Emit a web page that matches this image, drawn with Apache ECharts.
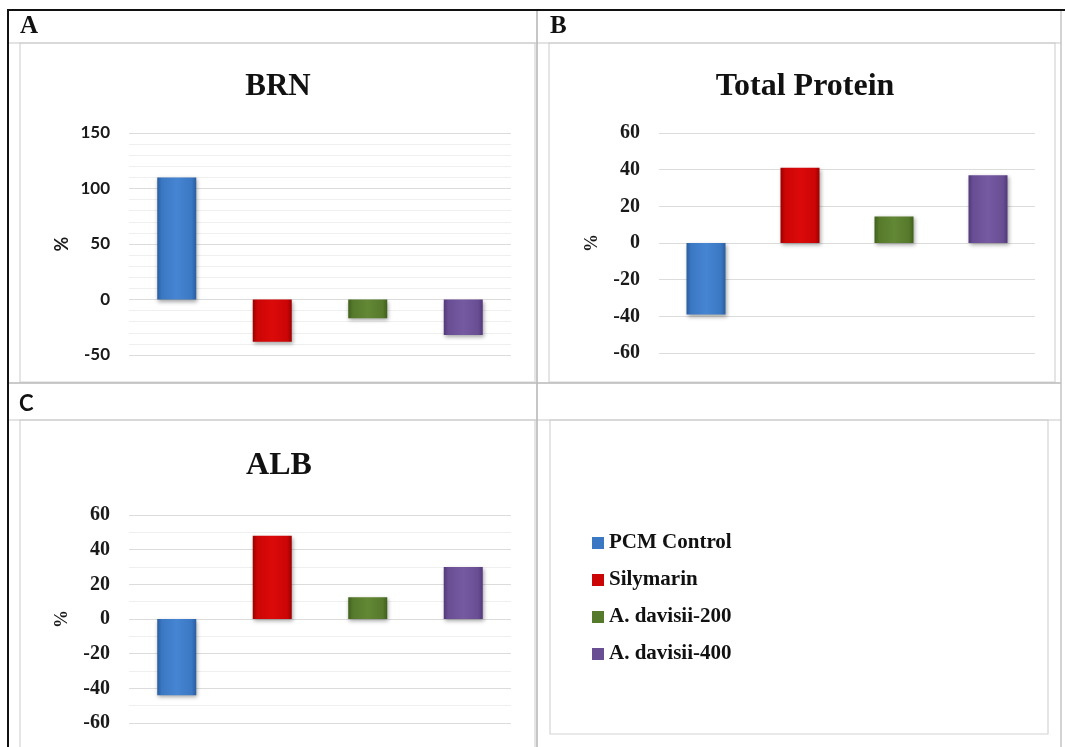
<!DOCTYPE html>
<html>
<head>
<meta charset="utf-8">
<script src="https://cdn.jsdelivr.net/npm/echarts@6/dist/echarts.min.js"></script>
<style>
html,body{margin:0;padding:0;background:#fff;}
#main{width:1065px;height:747px;}
</style>
</head>
<body>
<div id="main"></div>
<script>
// ---- data ----
var groups = ['PCM Control', 'Silymarin', 'A. davisii-200', 'A. davisii-400'];
var brnValues = [110, -38, -17, -32];
var proteinValues = [-39, 41, 14.5, 37];
var albValues = [-44, 48, 12.5, 30];
var panelTitles = ['BRN', 'Total Protein', 'ALB'];
var panelLetters = ['A', 'B', 'C'];
var yLimitsA = [-50, 150, 50];
var yLimitsB = [-60, 60, 20];
var yLimitsC = [-60, 60, 20];

// ---- styles ----
var SERIF = '"Liberation Serif", "DejaVu Serif", serif';
var SANS = 'Lato, "Liberation Sans", sans-serif';
function grad(dark, mid, light) {
  return {type: 'linear', x: 0, y: 0, x2: 1, y2: 0,
    colorStops: [
      {offset: 0, color: dark}, {offset: 0.12, color: mid},
      {offset: 0.5, color: light}, {offset: 0.88, color: mid},
      {offset: 1, color: dark}]};
}
var colors = [
  grad('#2a5d9f', '#3b78c4', '#4685d2'),
  grad('#9e0000', '#cc0505', '#dc0a0a'),
  grad('#40601c', '#567a2b', '#628735'),
  grad('#52397a', '#694e94', '#755aa2')
];
var legendColors = ['#3b78c4', '#cc0505', '#567a2b', '#694e94'];

var chart = echarts.init(document.getElementById('main'), null, {renderer: 'canvas'});

var grids = [
  {left: 129, top: 133, width: 382, height: 222},
  {left: 659, top: 133, width: 376, height: 220},
  {left: 129, top: 515, width: 382, height: 208}
];
var panelData = [brnValues, proteinValues, albValues];
var limits = [yLimitsA, yLimitsB, yLimitsC];
var labelFonts = [
  {fontFamily: SANS, fontSize: 17, fontWeight: 'bold', color: '#1a1a1a'},
  {fontFamily: SERIF, fontSize: 20, fontWeight: 'bold', color: '#1a1a1a'},
  {fontFamily: SERIF, fontSize: 20, fontWeight: 'bold', color: '#1a1a1a'}
];
var minorSplits = [5, 0, 2];

var xAxes = [], yAxes = [], series = [];
for (var p = 0; p < 3; p++) {
  xAxes.push({
    type: 'category', gridIndex: p, data: groups,
    axisLine: {show: false}, axisTick: {show: false}, axisLabel: {show: false}
  });
  yAxes.push({
    type: 'value', gridIndex: p,
    min: limits[p][0], max: limits[p][1], interval: limits[p][2],
    name: '%', nameLocation: 'middle', nameGap: 58, nameRotate: 90,
    nameTextStyle: {fontFamily: p === 0 ? SANS : SERIF, fontSize: 18, fontWeight: 'bold', color: '#1a1a1a'},
    axisLine: {show: false}, axisTick: {show: false},
    axisLabel: Object.assign({margin: 19}, labelFonts[p]),
    splitLine: {show: true, lineStyle: {color: '#dcdcdc', width: 1}},
    minorTick: {show: false, splitNumber: minorSplits[p] || 5},
    minorSplitLine: {show: minorSplits[p] > 0, lineStyle: {color: '#efefef', width: 1}}
  });
  for (var g = 0; g < groups.length; g++) {
    (function (p, g) {
      series.push({
        name: groups[g], type: 'bar', xAxisIndex: p, yAxisIndex: p,
        barWidth: 39, barGap: '-100%',
        data: panelData[p].map(function (v, i) { return i === g ? v : '-'; }),
        itemStyle: {color: colors[g], shadowBlur: 4, shadowColor: 'rgba(0,0,0,0.35)', shadowOffsetY: 2, shadowOffsetX: 1},
        emphasis: {disabled: true},
        animation: false
      });
    })(p, g);
  }
}

function line(x1, y1, x2, y2, color, w) {
  return {type: 'line', silent: true, shape: {x1: x1, y1: y1, x2: x2, y2: y2},
    style: {stroke: color, lineWidth: w}};
}
function box(x, y, w, h) {
  return {type: 'rect', silent: true, shape: {x: x, y: y, width: w, height: h},
    style: {fill: null, stroke: '#d4d4d4', lineWidth: 1.2}};
}
var graphics = [
  // inner chart boxes
  box(20, 43, 515, 339),
  box(549, 43, 506, 339),
  box(20, 420, 515, 340),
  box(550, 420, 498, 314),
  // table lines
  line(8, 43, 1061, 43, '#c8c8c8', 1.2),
  line(8, 420, 1061, 420, '#c8c8c8', 1.2),
  line(537, 10, 537, 747, '#b8b8b8', 1.6),
  line(8, 383, 1061, 383, '#b8b8b8', 1.6),
  line(1061, 10, 1061, 747, '#c0c0c0', 1.4),
  line(7, 10, 1065, 10, '#111', 2),
  line(8, 9, 8, 747, '#111', 2),
  // panel letters
  {type: 'text', silent: true, x: 20, y: 39, style: {text: panelLetters[0], textVerticalAlign: 'bottom',
    font: 'bold 25px ' + SERIF, fill: '#111'}},
  {type: 'text', silent: true, x: 550, y: 39, style: {text: panelLetters[1], textVerticalAlign: 'bottom',
    font: 'bold 25px ' + SERIF, fill: '#111'}},
  {type: 'text', silent: true, x: 19, y: 415, style: {text: panelLetters[2], textVerticalAlign: 'bottom',
    font: 'bold 22px ' + SANS, fill: '#111'}},
  // chart titles
  {type: 'text', silent: true, x: 278, y: 87, style: {text: panelTitles[0], textAlign: 'center', textVerticalAlign: 'middle',
    font: 'bold 31px ' + SERIF, fill: '#111'}},
  {type: 'text', silent: true, x: 805, y: 87, style: {text: panelTitles[1], textAlign: 'center', textVerticalAlign: 'middle',
    font: 'bold 32px ' + SERIF, fill: '#111'}},
  {type: 'text', silent: true, x: 279, y: 466, style: {text: panelTitles[2], textAlign: 'center', textVerticalAlign: 'middle',
    font: 'bold 32px ' + SERIF, fill: '#111'}}
];

chart.setOption({
  animation: false,
  backgroundColor: '#ffffff',
  grid: grids,
  xAxis: xAxes,
  yAxis: yAxes,
  series: series,
  legend: {
    orient: 'vertical', left: 587, top: 527,
    data: groups.map(function (name, i) {
      return {name: name, icon: 'rect', itemStyle: {color: legendColors[i]}};
    }),
    itemWidth: 12, itemHeight: 12, itemGap: 15,
    selectedMode: false,
    textStyle: {fontFamily: SERIF, fontSize: 21, fontWeight: 'bold', color: '#111', lineHeight: 22, padding: [0, 0, 0, 0]}
  },
  graphic: graphics
});
</script>
</body>
</html>
